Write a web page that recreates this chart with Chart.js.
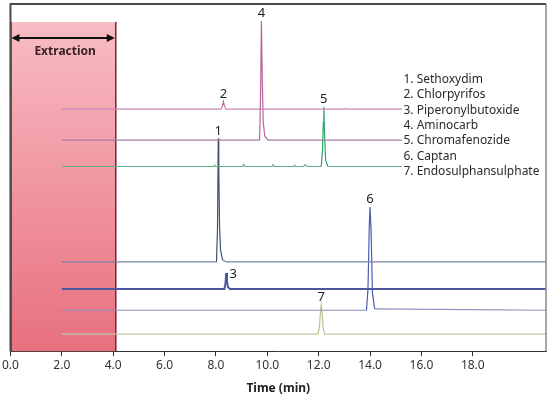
<!DOCTYPE html>
<html>
<head>
<meta charset="utf-8">
<script src="https://cdn.jsdelivr.net/npm/chart.js@4"></script>
<style>
  body { margin: 0; background: #fff; }
  #wrap { width: 550px; height: 397px; position: relative; }
</style>
</head>
<body>
<div id="wrap"><canvas id="chromChart"></canvas></div>
<script>
/* --- DATA --- */
const X_TICKS = [0, 2, 4, 6, 8, 10, 12, 14, 16, 18];
const X_MAX = 20.85;
const EXTRACTION_END = 4.1;

const COMPOUNDS = ['Sethoxydim', 'Chlorpyrifos', 'Piperonylbutoxide', 'Aminocarb',
  'Chromafenozide', 'Captan', 'Endosulphansulphate'];

// traces listed top to bottom, signal includes the stacking offset
const PEAK_NUMBERS = [2, 4, 5, 1, 3, 6, 7];
const BASELINES = [69.7, 60.8, 53.2, 25.7, 17.9, 11.8, 4.9];

const T_CHLORPYRIFOS = [2.0, 8.20, 8.25, 8.29, 8.33, 8.38, 13.02, 13.07, 13.12, 15.25];
const S_CHLORPYRIFOS = [69.7, 69.7, 70.6, 71.9, 70.6, 69.7, 69.7, 69.95, 69.7, 69.7];

const T_AMINOCARB = [2.0, 9.70, 9.74, 9.77, 9.80, 9.84, 9.90, 10.02, 15.25];
const S_AMINOCARB = [60.8, 60.8, 75, 95.1, 80, 66, 62, 60.8, 60.8];

const T_CHROMAFENOZIDE = [2.0, 7.90, 7.94, 7.98, 9.03, 9.08, 9.13, 10.17, 10.22, 10.27,
  11.01, 11.06, 11.11, 11.40, 11.48, 11.56, 12.10, 12.15, 12.18, 12.20, 12.23, 12.27, 12.36, 15.25];
const S_CHROMAFENOZIDE = [53.2, 53.2, 53.5, 53.2, 53.2, 53.8, 53.2, 53.2, 53.7, 53.2,
  53.2, 53.5, 53.2, 53.2, 53.7, 53.2, 53.2, 58, 66, 70.4, 62, 55, 53.2, 53.2];

const T_SETHOXYDIM = [2.0, 8.02, 8.06, 8.09, 8.11, 8.14, 8.18, 8.26, 8.40, 20.85];
const S_SETHOXYDIM = [25.7, 25.7, 35, 61.3, 52, 36, 29, 26.3, 25.7, 25.7];

const T_PIPERONYL = [2.0, 8.33, 8.37, 8.40, 8.43, 8.47, 8.55, 20.85];
const S_PIPERONYL = [17.9, 17.9, 19.5, 22.5, 20.0, 18.4, 17.9, 17.9];

const T_CAPTAN = [2.0, 13.86, 13.92, 13.97, 14.00, 14.04, 14.09, 14.18, 20.85];
const S_CAPTAN = [11.8, 11.8, 18, 36, 41.5, 35, 17, 12.2, 11.8, 11.8];

const T_ENDOSULPHAN = [2.0, 11.97, 12.03, 12.07, 12.10, 12.13, 12.17, 12.23, 20.85];
const S_ENDOSULPHAN = [4.9, 4.9, 7, 11.5, 13.3, 11.5, 7, 4.9, 4.9];

const TRACE_TIMES = [T_CHLORPYRIFOS, T_AMINOCARB, T_CHROMAFENOZIDE, T_SETHOXYDIM, T_PIPERONYL, T_CAPTAN, T_ENDOSULPHAN];
const TRACE_SIGNALS = [S_CHLORPYRIFOS, S_AMINOCARB, S_CHROMAFENOZIDE, S_SETHOXYDIM, S_PIPERONYL, S_CAPTAN, S_ENDOSULPHAN];

/* --- STYLE --- */
const LINE_COLORS = ['#c98ab8', '#a47f9b', '#5fae86', '#7784a8', '#4c579c', '#8c8fb8', '#bccaa6'];
const PEAK_COLORS = ['#c8649f', '#b8649a', '#2ca56c', '#3d5273', '#4c579c', '#4a5bb0', '#b5c48e'];
const LINE_WIDTHS = [1.2, 1.2, 1.2, 1.2, 2, 1.2, 1.2];
const LABEL_DX = [0, 0, 0, 0, 7, 0, 0];

const datasets = TRACE_TIMES.map((times, i) => {
  const base = BASELINES[i];
  return {
    label: COMPOUNDS[PEAK_NUMBERS[i] - 1],
    data: times.map((t, j) => ({ x: t, y: TRACE_SIGNALS[i][j] })),
    borderColor: LINE_COLORS[i],
    borderWidth: LINE_WIDTHS[i],
    pointRadius: 0,
    tension: 0,
    segment: {
      borderColor: ctx => (ctx.p0.parsed.y - base > 1 || ctx.p1.parsed.y - base > 1) ? PEAK_COLORS[i] : LINE_COLORS[i]
    }
  };
});

/* --- PLUGINS --- */
const extractionPlugin = {
  id: 'extraction',
  beforeDatasetsDraw(chart) {
    const { ctx, chartArea, scales: { x, y } } = chart;
    const left = x.getPixelForValue(0);
    const right = x.getPixelForValue(EXTRACTION_END);
    const top = y.getPixelForValue(94.8);
    const bottom = chartArea.bottom;
    const grad = ctx.createLinearGradient(0, top, 0, bottom);
    grad.addColorStop(0, '#f8bcc4');
    grad.addColorStop(1, '#e8707e');
    ctx.save();
    ctx.fillStyle = grad;
    ctx.fillRect(left, top, right - left, bottom - top);
    ctx.strokeStyle = '#7c2233';
    ctx.lineWidth = 1.5;
    ctx.beginPath();
    ctx.moveTo(right, top);
    ctx.lineTo(right, bottom);
    ctx.moveTo(left + 0.5, top);
    ctx.lineTo(left + 0.5, bottom);
    ctx.stroke();
    ctx.restore();
  },
  afterDatasetsDraw(chart) {
    const { ctx, scales: { x, y } } = chart;
    const left = x.getPixelForValue(0) + 1;
    const right = x.getPixelForValue(EXTRACTION_END) - 1;
    const ay = y.getPixelForValue(90.2);
    ctx.save();
    ctx.strokeStyle = '#111';
    ctx.fillStyle = '#111';
    ctx.lineWidth = 2;
    ctx.beginPath();
    ctx.moveTo(left + 5, ay);
    ctx.lineTo(right - 5, ay);
    ctx.stroke();
    ctx.beginPath();
    ctx.moveTo(left, ay); ctx.lineTo(left + 8, ay - 4); ctx.lineTo(left + 8, ay + 4); ctx.closePath();
    ctx.moveTo(right, ay); ctx.lineTo(right - 8, ay - 4); ctx.lineTo(right - 8, ay + 4); ctx.closePath();
    ctx.fill();
    ctx.font = "bold 12px 'Noto Sans'";
    ctx.fillStyle = '#3a2226';
    ctx.textAlign = 'center';
    ctx.textBaseline = 'middle';
    ctx.fillText('Extraction', (left + right) / 2 + 2, ay + 14);
    ctx.restore();
  }
};

const annotatePlugin = {
  id: 'annotate',
  afterDatasetsDraw(chart) {
    const { ctx, scales: { x, y } } = chart;
    ctx.save();
    ctx.font = "13px 'Noto Sans'";
    ctx.fillStyle = '#222';
    ctx.textAlign = 'center';
    ctx.textBaseline = 'bottom';
    TRACE_SIGNALS.forEach((sig, i) => {
      const k = sig.indexOf(Math.max(...sig));
      const px = x.getPixelForValue(TRACE_TIMES[i][k]) + LABEL_DX[i];
      const py = y.getPixelForValue(sig[k]) - (LABEL_DX[i] ? -8 : 1);
      ctx.fillText(String(PEAK_NUMBERS[i]), px, py);
    });

    // compound list
    ctx.font = "12px 'Noto Sans'";
    ctx.fillStyle = '#2a2a2a';
    ctx.textAlign = 'left';
    ctx.textBaseline = 'middle';
    const lx = x.getPixelForValue(15.3);
    const ly = y.getPixelForValue(78.3);
    COMPOUNDS.forEach((name, i) => {
      ctx.fillText((i + 1) + '. ' + name, lx, ly + i * 15.4);
    });
    ctx.restore();
  },
  afterDraw(chart) {
    const { ctx, chartArea: a } = chart;
    ctx.save();
    ctx.strokeStyle = '#8a8a8a';
    ctx.lineWidth = 1.5;
    ctx.beginPath();
    ctx.moveTo(a.right, a.top);
    ctx.lineTo(a.right, a.bottom);
    ctx.stroke();
    ctx.strokeStyle = '#4a4a4a';
    ctx.lineWidth = 2;
    ctx.beginPath();
    ctx.moveTo(a.left, a.bottom);
    ctx.lineTo(a.left, a.top);
    ctx.lineTo(a.right, a.top);
    ctx.stroke();
    ctx.restore();
  }
};

/* --- CHART --- */
new Chart(document.getElementById('chromChart'), {
  type: 'line',
  data: { datasets },
  options: {
    responsive: true,
    maintainAspectRatio: false,
    animation: false,
    layout: { padding: { left: 9, right: 4, top: 4, bottom: 0 } },
    plugins: { legend: { display: false }, tooltip: { enabled: false } },
    scales: {
      x: {
        type: 'linear',
        min: 0,
        max: X_MAX,
        afterBuildTicks: scale => { scale.ticks = X_TICKS.map(v => ({ value: v })); },
        grid: { drawOnChartArea: false, drawTicks: true, tickLength: 5, color: '#333' },
        border: { display: true, color: '#333', width: 1 },
        ticks: {
          maxRotation: 0,
          autoSkip: false,
          padding: 2,
          color: '#333',
          font: { family: "'Noto Sans'", size: 12 },
          callback: v => Number(v).toFixed(1)
        },
        title: {
          display: true,
          text: 'Time (min)',
          color: '#222',
          font: { family: "'Noto Sans'", size: 12, weight: 'bold' },
          padding: { top: 7, bottom: 1 }
        }
      },
      y: { display: false, min: 0, max: 100 }
    }
  },
  plugins: [extractionPlugin, annotatePlugin]
});
</script>
</body>
</html>
